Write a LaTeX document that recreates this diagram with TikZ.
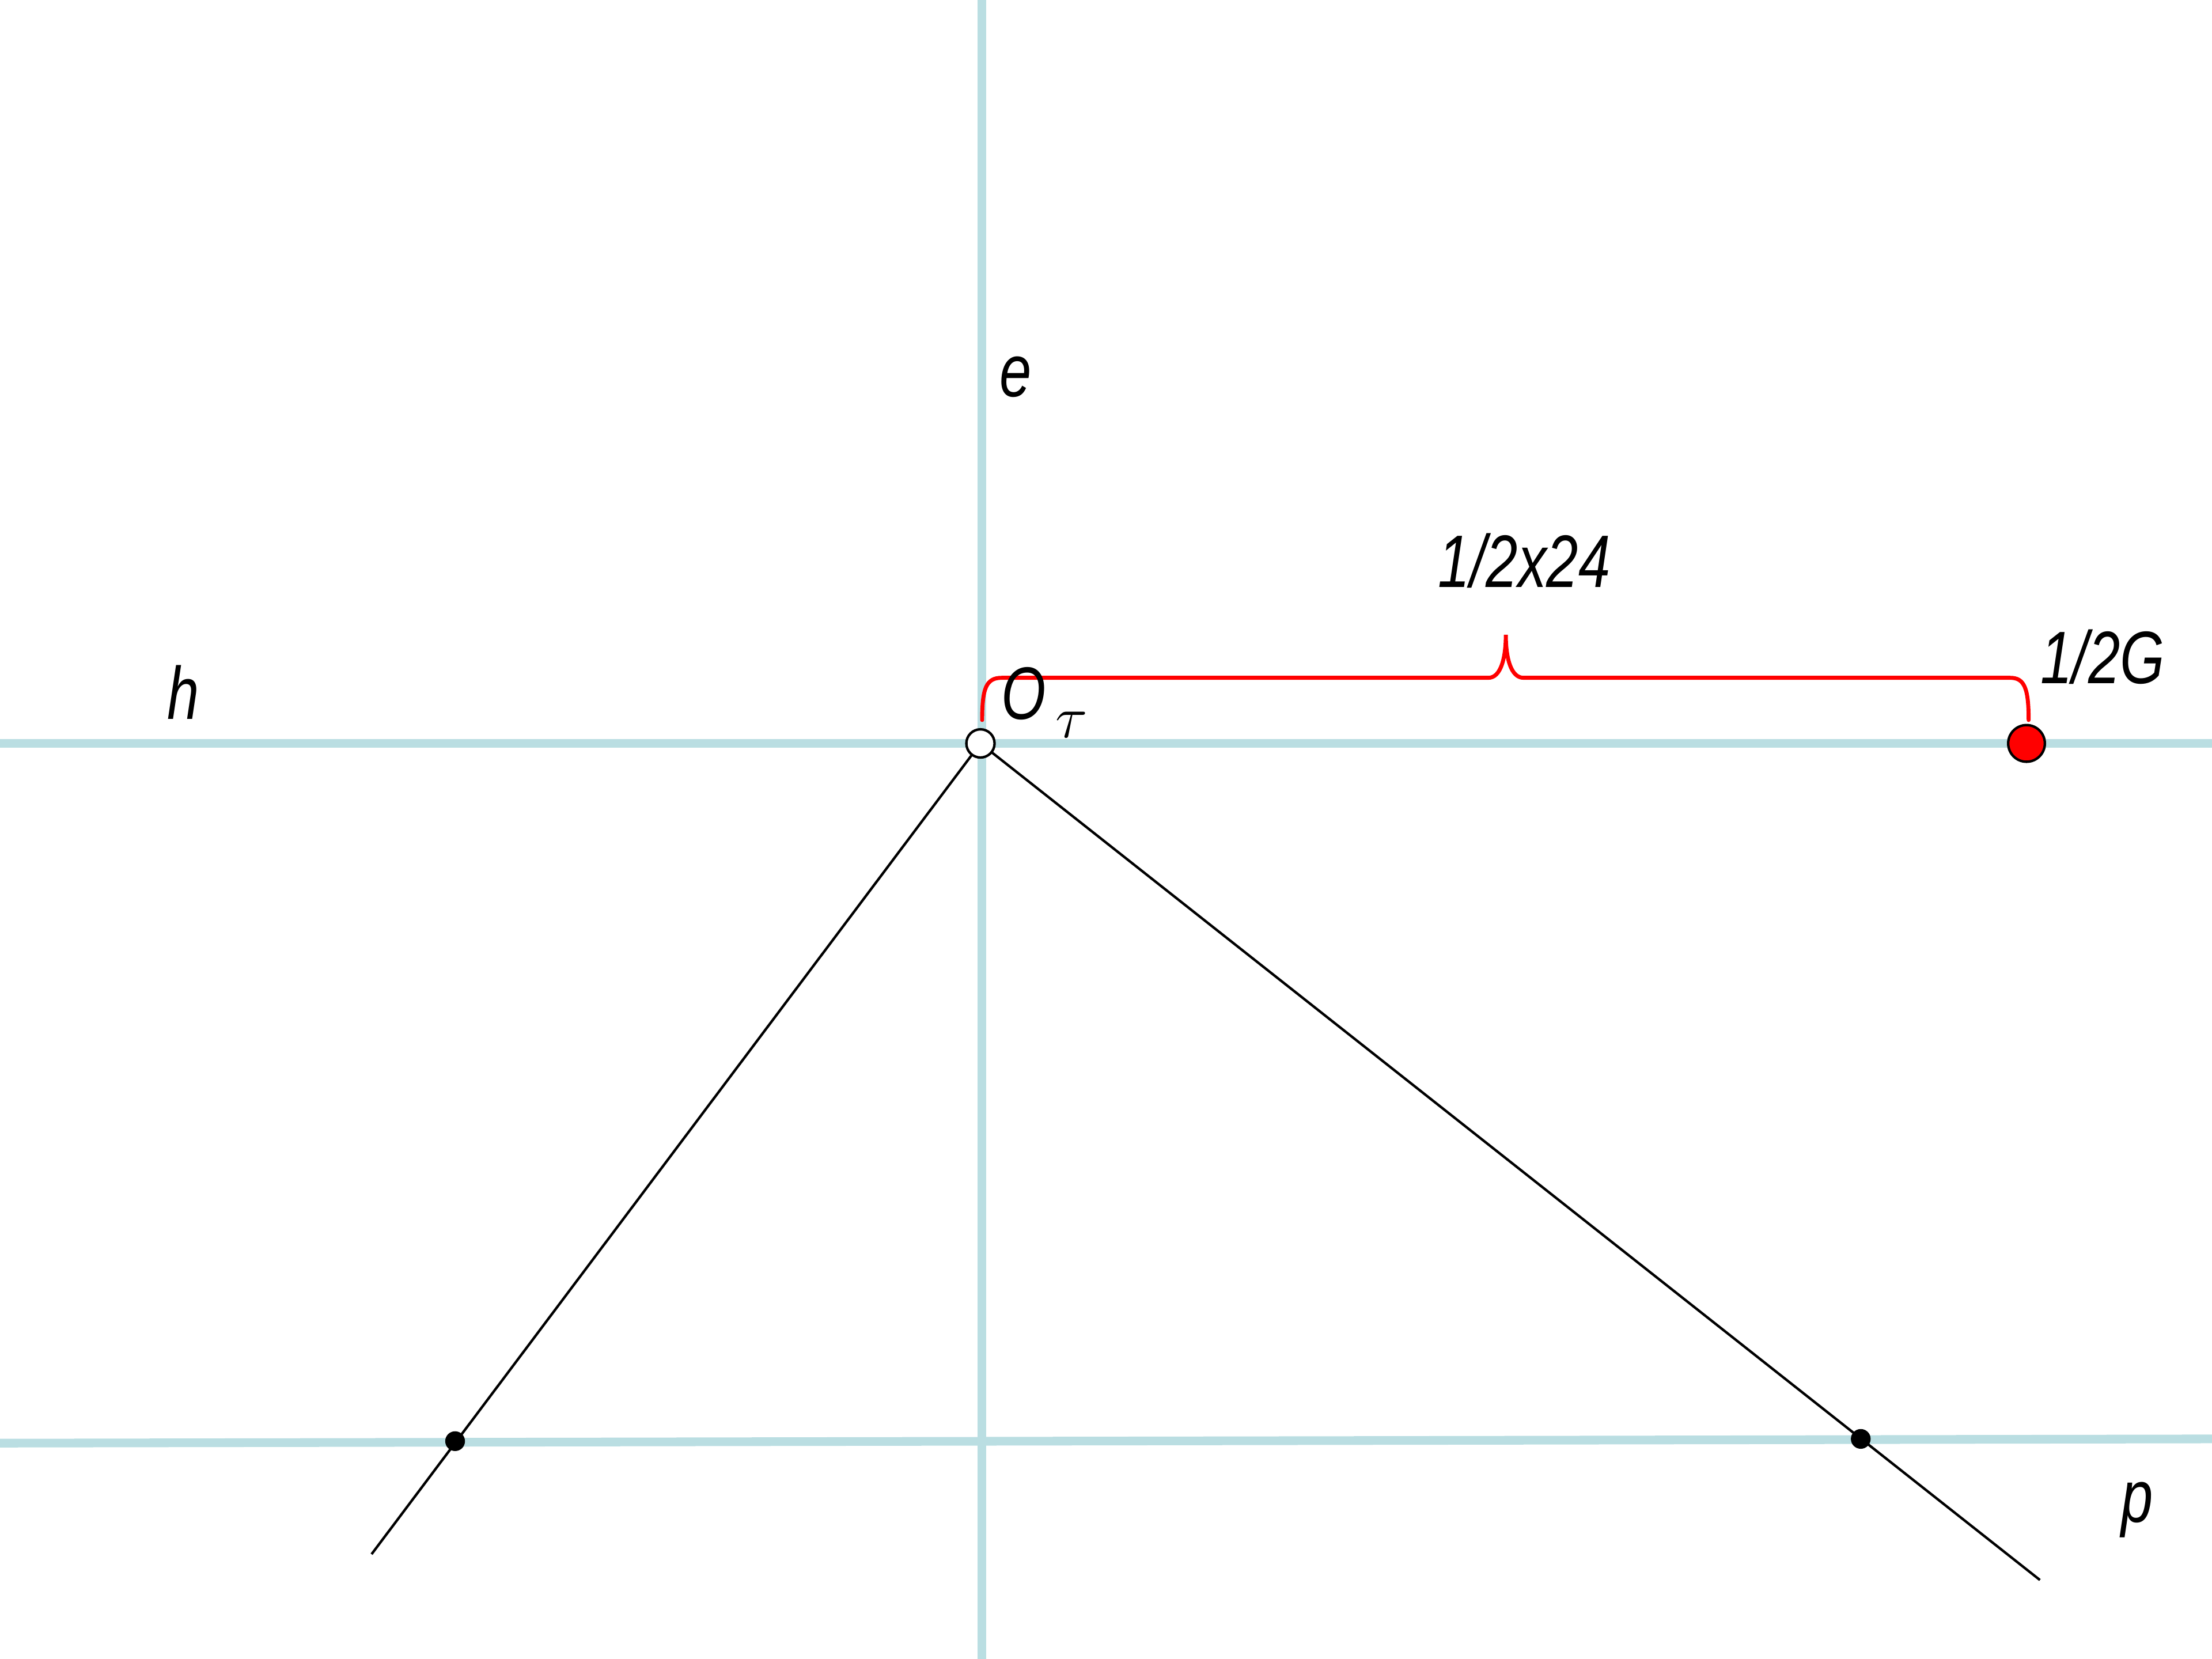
\documentclass[tikz,border=0pt]{standalone}
\usepackage{fontspec}
\setmainfont{Liberation Sans}[FakeStretch=0.77]
\definecolor{guide}{RGB}{186,222,226}

\begin{document}
\begin{tikzpicture}[
	font=\fontsize{15}{18}\selectfont\itshape,
	axis/.style={draw=guide,line width=1.75pt},
	ray/.style={draw=black,line width=0.5pt},
	halfbrace/.style={draw=red,line width=0.8pt,line cap=round},
	open/.style={circle,draw,line width=0.5pt,fill=white,inner sep=0pt,minimum size=0.2cm},
	foot/.style={circle,fill=black,inner sep=0pt,minimum size=0.14cm},
	gpoint/.style={circle,draw,line width=0.5pt,fill=red,inner sep=0pt,minimum size=0.26cm},
	lbl/.style={anchor=base,inner sep=0pt},
	]
\useasboundingbox (0,0) rectangle (15.68,11.76);
\coordinate (o) at (6.95,6.49);
\coordinate (g) at (14.365,6.49);
\coordinate (ltop) at (6.96,11.76);
\coordinate (lbot) at (6.96,0);
\coordinate (hw) at (0,6.49);
\coordinate (he) at (15.68,6.49);
\coordinate (pw) at (0,1.53);
\coordinate (pe) at (15.68,1.56);
\coordinate (lend) at (2.634,0.743);
\coordinate (rend) at (14.46,0.56);
\coordinate (lfoot) at (3.226,1.544);
\coordinate (rfoot) at (13.19,1.56);
\coordinate (bl) at (6.962,6.656);
\coordinate (bt) at (10.674,7.26);
\coordinate (br) at (14.38,6.656);

\draw[axis] (ltop) -- (lbot);
\draw[axis] (hw) -- (he);
\draw[axis] (pw) -- (pe);

\draw[ray] (o) -- (lend);
\draw[ray] (o) -- (rend);

\draw[halfbrace] (bl) .. controls (6.962,6.88) and (6.99,6.955) .. (7.10,6.955)
	-- (10.55,6.955) .. controls (10.64,6.955) and (10.674,7.1) .. (bt)
	.. controls (10.674,7.1) and (10.708,6.955) .. (10.80,6.955)
	-- (14.25,6.955) .. controls (14.35,6.955) and (14.38,6.88) .. (br);

\node[open] (O) at (o) {};
\node[gpoint] (G) at (g) {};
\node[foot] (L) at (lfoot) {};
\node[foot] (R) at (rfoot) {};

\node[lbl] (e) at (7.20,8.95) {e};
\node[lbl] (h) at (1.30,6.66) {h};
\node[lbl] (p) at (15.15,0.97) {p};
\node[lbl] (half) at (10.805,7.595) {1/2x24};
\node[lbl] (halfG) at (14.904,6.915) {1/2G};
\node[lbl,anchor=base west] (Olbl) at (7.09,6.66) {O\kern2pt\raisebox{-3.7pt}{\fontsize{13}{13}\selectfont$\tau$}};
\end{tikzpicture}
\end{document}
